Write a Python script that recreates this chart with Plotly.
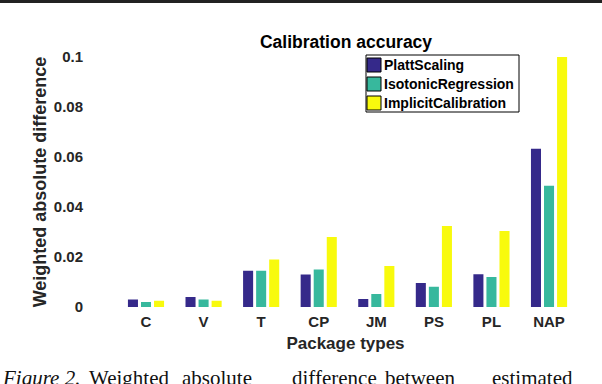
import plotly.graph_objects as go

# Values
categories = ["C", "V", "T", "CP", "JM", "PS", "PL", "NAP"]
platt = [0.003, 0.004, 0.0145, 0.013, 0.0032, 0.0096, 0.0131, 0.0633]
isotonic = [0.002, 0.003, 0.0145, 0.015, 0.0052, 0.0081, 0.012, 0.0485]
implicit = [0.0025, 0.0025, 0.019, 0.028, 0.0164, 0.0324, 0.0304, 0.1]
y_ticks = [0, 0.02, 0.04, 0.06, 0.08, 0.1]
y_tick_text = ["0", "0.02", "0.04", "0.06", "0.08", "0.1"]

series_names = ["PlattScaling", "IsotonicRegression", "ImplicitCalibration"]
series_colors = ["#35298a", "#37b89d", "#f8fa0d"]

caption_words = ["Figure 2.", "Weighted", "absolute", "difference", "between", "estimated"]
caption_x = [0, 87, 180, 290, 383, 490]  # pixel starts of the justified caption words

FONT = "Liberation Sans, Arial, sans-serif"
W, H = 602, 384
L, R, T, B = 89, 0, 57, 77
pw = W - L - R
ph = H - T - B


def px_x(p):
    return (p - L) / pw


def px_y(p):
    return (H - B - p) / ph


fig = go.Figure()
for name, vals, color in zip(series_names, [platt, isotonic, implicit], series_colors):
    fig.add_trace(go.Bar(x=categories, y=vals, name=name,
                         marker=dict(color=color, line=dict(width=0))))

# hand-made legend box in the MATLAB style (tight swatches, 19px rows)
fig.add_shape(type="rect", xref="paper", yref="paper",
              x0=px_x(366), x1=px_x(519), y0=px_y(112), y1=px_y(55),
              fillcolor="white", line=dict(color="black", width=1), layer="above")
for i, (name, color) in enumerate(zip(series_names, series_colors)):
    top = 58 + i * 19
    fig.add_shape(type="rect", xref="paper", yref="paper",
                  x0=px_x(367), x1=px_x(381), y0=px_y(top + 14), y1=px_y(top),
                  fillcolor=color, line=dict(color="black", width=1), layer="above")
    fig.add_annotation(text="<b>" + name + "</b>", xref="paper", yref="paper",
                       x=px_x(382), y=px_y(top + 7), xanchor="left", yanchor="middle",
                       showarrow=False, font=dict(family=FONT, size=14, color="black"))

# caption below the figure (serif, justified words), cut by the image bottom
for i, (w, p) in enumerate(zip(caption_words, caption_x)):
    txt = "<i>" + w + "</i>" if i == 0 else w
    fig.add_annotation(text=txt, xref="paper", yref="paper",
                       x=px_x(p), y=px_y(378),
                       xanchor="left", yanchor="middle", showarrow=False,
                       font=dict(family="Liberation Serif, Times New Roman, serif",
                                 size=21, color="#111"))

# thick dark border at the very top of the image
fig.add_shape(type="rect", xref="paper", yref="paper",
              x0=px_x(0), x1=1, y0=px_y(3), y1=px_y(0),
              fillcolor="#222", line=dict(width=0), layer="above")

fig.update_layout(
    width=W, height=H,
    margin=dict(l=L, r=R, t=T, b=B, pad=0),
    paper_bgcolor="white", plot_bgcolor="white",
    barmode="group", bargap=0.32, bargroupgap=0.23,
    font=dict(family=FONT, color="#262626"),
    title=dict(text="<b>Calibration accuracy</b>", x=346 / W, xanchor="center",
               y=1 - 42 / H, yanchor="middle",
               font=dict(size=17.5, color="black", family=FONT)),
    showlegend=False,
)

fig.update_xaxes(range=[-0.99, 7.92], showline=False, showgrid=False, ticks="",
                 tickfont=dict(size=15, weight="bold"), ticklabelstandoff=4,
                 title=dict(text="<b>Package types</b>", standoff=8,
                            font=dict(size=17, color="#262626")))
fig.update_yaxes(range=[0, 0.1], showline=False, showgrid=False, zeroline=False, ticks="",
                 tickvals=y_ticks, ticktext=y_tick_text,
                 tickfont=dict(size=15, weight="bold"), ticklabelstandoff=5,
                 title=dict(text="<b>Weighted absolute difference</b>", standoff=2,
                            font=dict(size=18, color="#262626")))

fig.write_html("out.html", config={"displayModeBar": False},
               post_script="document.body.style.margin='0';")
